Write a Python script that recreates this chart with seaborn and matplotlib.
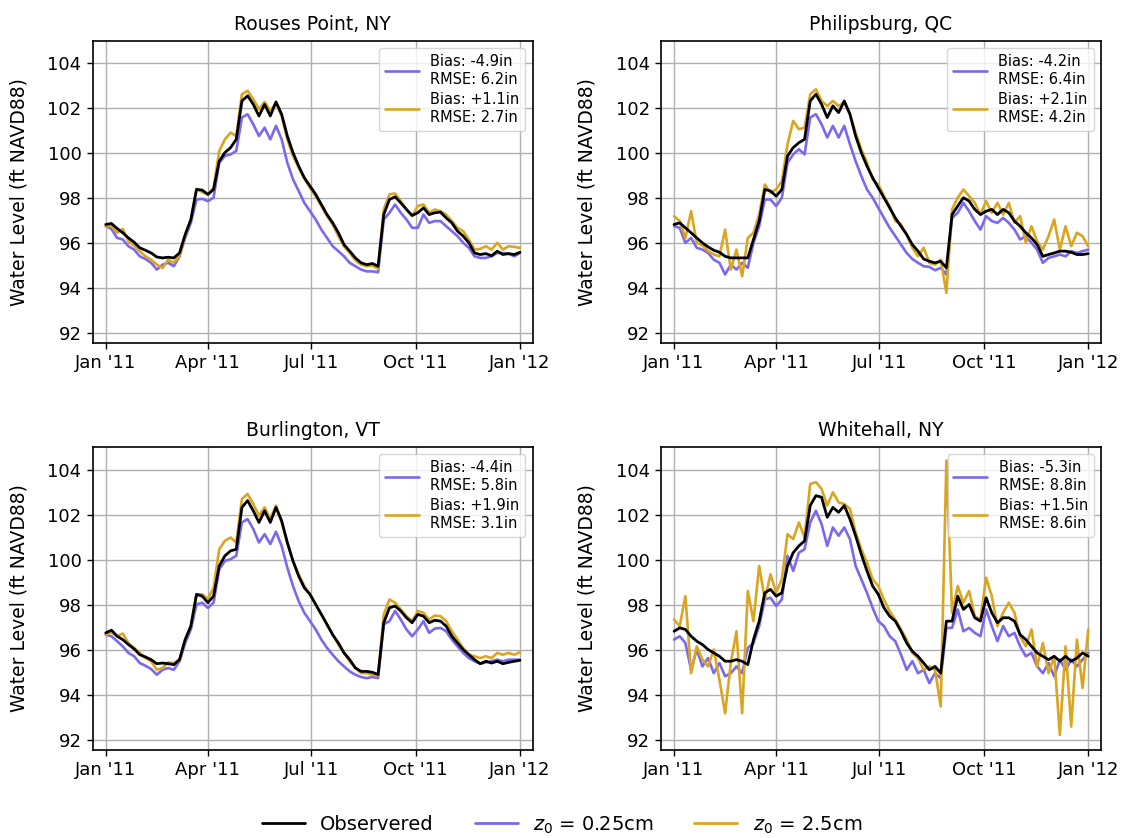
import matplotlib
matplotlib.use("Agg")
import matplotlib.pyplot as plt
import matplotlib.dates as mdates
from matplotlib.lines import Line2D
import seaborn as sns
import pandas as pd

# ---------------- data (5-day samples through 2011) ----------------
dates = pd.date_range("2011-01-01", periods=74, freq="5D")

stations = ["Rouses Point, NY", "Philipsburg, QC", "Burlington, VT", "Whitehall, NY"]
label_obs = "Observered"
label_a = "$z_0$ = 0.25cm"
label_b = "$z_0$ = 2.5cm"

stats_a = ["Bias: -4.9in\nRMSE: 6.2in", "Bias: -4.2in\nRMSE: 6.4in",
           "Bias: -4.4in\nRMSE: 5.8in", "Bias: -5.3in\nRMSE: 8.8in"]
stats_b = ["Bias: +1.1in\nRMSE: 2.7in", "Bias: +2.1in\nRMSE: 4.2in",
           "Bias: +1.9in\nRMSE: 3.1in", "Bias: +1.5in\nRMSE: 8.6in"]

rouses_obs = [96.83, 96.87, 96.65, 96.46, 96.23, 96.04, 95.79, 95.68, 95.56, 95.38,
              95.34, 95.37, 95.34, 95.56, 96.38, 97.05, 98.39, 98.36, 98.17, 98.39,
              99.65, 100.03, 100.25, 100.62, 102.33, 102.56, 102.18, 101.66, 102.18, 101.66,
              102.29, 101.74, 100.77, 100.03, 99.43, 98.91, 98.54, 98.17, 97.72, 97.27,
              96.90, 96.46, 95.93, 95.64, 95.34, 95.12, 95.04, 95.09, 94.97, 97.27,
              97.94, 98.06, 97.79, 97.50, 97.23, 97.35, 97.57, 97.27, 97.35, 97.38,
              97.12, 96.90, 96.53, 96.31, 96.01, 95.56, 95.49, 95.53, 95.44, 95.64,
              95.49, 95.53, 95.49, 95.59]
rouses_a = [96.75, 96.63, 96.23, 96.16, 95.86, 95.71, 95.41, 95.29, 95.12, 94.82,
            95.04, 95.12, 94.97, 95.41, 96.23, 96.90, 97.94, 97.97, 97.87, 98.02,
            99.58, 99.88, 99.95, 100.10, 101.59, 101.74, 101.29, 100.77, 101.14, 100.62,
            101.22, 100.62, 99.58, 98.84, 98.32, 97.79, 97.42, 97.05, 96.60, 96.23,
            95.86, 95.64, 95.41, 95.12, 94.97, 94.82, 94.74, 94.74, 94.70, 97.05,
            97.35, 97.72, 97.35, 97.05, 96.68, 96.68, 97.27, 96.90, 96.98, 96.98,
            96.75, 96.53, 96.31, 96.01, 95.79, 95.41, 95.34, 95.34, 95.41, 95.56,
            95.56, 95.53, 95.41, 95.56]
rouses_b = [96.75, 96.75, 96.46, 96.63, 96.08, 95.89, 95.64, 95.41, 95.26, 95.04,
            94.89, 95.26, 95.12, 95.44, 96.31, 97.05, 98.42, 98.27, 98.17, 98.46,
            100.10, 100.62, 100.92, 100.77, 102.63, 102.78, 102.41, 101.96, 102.29, 101.89,
            102.23, 101.66, 100.62, 99.88, 99.36, 98.87, 98.46, 98.09, 97.65, 97.20,
            96.83, 96.31, 95.86, 95.56, 95.23, 95.04, 94.97, 95.00, 94.85, 97.50,
            98.17, 98.21, 97.87, 97.50, 97.20, 97.65, 97.72, 97.35, 97.50, 97.42,
            97.27, 96.98, 96.68, 96.53, 96.16, 95.71, 95.74, 95.86, 95.71, 96.01,
            95.71, 95.86, 95.83, 95.79]

phil_obs = [96.83, 96.90, 96.68, 96.46, 96.23, 96.01, 95.83, 95.68, 95.59, 95.41,
            95.34, 95.34, 95.34, 95.34, 96.16, 96.98, 98.39, 98.32, 98.09, 98.39,
            99.88, 100.25, 100.47, 100.62, 102.33, 102.63, 102.18, 101.59, 102.11, 101.81,
            102.33, 101.74, 100.77, 100.03, 99.43, 98.91, 98.46, 98.02, 97.57, 97.12,
            96.75, 96.38, 95.93, 95.64, 95.29, 95.19, 95.12, 95.19, 94.90, 97.27,
            97.65, 98.02, 97.87, 97.50, 97.27, 97.42, 97.50, 97.27, 97.50, 97.35,
            96.98, 96.75, 96.46, 96.23, 95.93, 95.41, 95.49, 95.56, 95.64, 95.64,
            95.59, 95.49, 95.49, 95.53]
phil_a = [96.75, 96.68, 96.01, 96.23, 95.79, 95.71, 95.56, 95.26, 95.12, 94.60,
          95.04, 94.82, 95.12, 94.90, 96.01, 96.75, 97.94, 97.94, 97.65, 98.02,
          99.58, 99.95, 100.18, 99.95, 101.59, 101.74, 101.29, 100.70, 101.22, 100.70,
          101.22, 100.40, 99.65, 98.99, 98.39, 98.02, 97.57, 97.12, 96.68, 96.31,
          95.93, 95.56, 95.29, 95.12, 94.97, 94.94, 94.79, 94.90, 94.60, 97.12,
          97.35, 97.79, 97.42, 96.98, 96.60, 97.20, 96.98, 96.90, 97.12, 96.90,
          96.60, 96.16, 96.31, 96.01, 95.71, 95.12, 95.34, 95.41, 95.49, 95.41,
          95.64, 95.56, 95.64, 95.71]
phil_b = [97.20, 96.98, 96.23, 97.42, 96.01, 95.89, 95.64, 95.49, 95.41, 96.60,
          94.82, 95.71, 94.52, 96.23, 96.46, 97.27, 98.61, 98.24, 98.39, 98.76,
          100.40, 101.44, 101.07, 101.14, 102.63, 102.85, 102.33, 102.11, 102.33, 102.11,
          102.26, 101.74, 100.92, 100.18, 99.58, 98.84, 98.61, 98.09, 97.65, 96.98,
          96.83, 96.38, 95.79, 95.41, 95.79, 95.12, 95.04, 95.26, 93.78, 97.50,
          98.02, 98.39, 98.09, 97.79, 97.27, 97.87, 97.35, 97.79, 97.27, 97.79,
          96.90, 97.20, 96.01, 96.75, 96.08, 95.71, 96.31, 97.05, 95.71, 96.75,
          95.86, 96.46, 96.31, 95.86]

burl_obs = [96.75, 96.87, 96.60, 96.45, 96.23, 96.04, 95.78, 95.68, 95.56, 95.38,
            95.41, 95.38, 95.34, 95.56, 96.45, 97.05, 98.46, 98.38, 98.09, 98.38,
            99.72, 100.17, 100.39, 100.46, 102.32, 102.62, 102.17, 101.65, 102.17, 101.65,
            102.32, 101.73, 100.76, 99.94, 99.27, 98.75, 98.46, 98.01, 97.57, 97.12,
            96.67, 96.30, 95.86, 95.56, 95.19, 95.04, 95.04, 95.00, 94.90, 97.20,
            97.86, 97.94, 97.72, 97.42, 97.20, 97.57, 97.49, 97.20, 97.31, 97.27,
            97.05, 96.60, 96.30, 96.01, 95.78, 95.56, 95.38, 95.49, 95.41, 95.49,
            95.38, 95.44, 95.49, 95.53]
burl_a = [96.67, 96.60, 96.38, 96.15, 95.86, 95.71, 95.41, 95.29, 95.14, 94.89,
          95.11, 95.19, 95.11, 95.49, 96.30, 96.90, 98.01, 98.09, 97.86, 98.09,
          99.57, 99.94, 100.02, 100.17, 101.65, 101.80, 101.36, 100.76, 101.13, 100.69,
          101.24, 100.61, 99.65, 98.83, 98.16, 97.64, 97.27, 96.90, 96.45, 96.08,
          95.78, 95.49, 95.26, 95.04, 94.89, 94.79, 94.74, 94.79, 94.74, 97.13,
          97.27, 97.72, 97.34, 96.90, 96.60, 96.90, 97.27, 96.75, 96.94, 96.97,
          96.82, 96.45, 96.15, 95.86, 95.63, 95.49, 95.38, 95.44, 95.49, 95.56,
          95.49, 95.56, 95.56, 95.56]
burl_b = [96.67, 96.78, 96.60, 96.72, 96.30, 96.08, 95.86, 95.63, 95.49, 95.11,
          95.19, 95.44, 95.41, 95.56, 96.45, 97.05, 98.46, 98.46, 98.26, 98.75,
          100.46, 100.84, 100.98, 100.76, 102.69, 102.92, 102.47, 101.95, 102.32, 101.80,
          102.40, 101.65, 100.76, 99.94, 99.35, 98.83, 98.46, 98.01, 97.57, 97.12,
          96.67, 96.23, 95.86, 95.49, 95.19, 94.96, 94.96, 94.89, 94.85, 97.57,
          98.23, 98.09, 97.79, 97.49, 97.27, 97.72, 97.64, 97.34, 97.52, 97.49,
          97.27, 96.82, 96.45, 96.08, 95.78, 95.71, 95.63, 95.71, 95.63, 95.86,
          95.78, 95.86, 95.78, 95.89]

white_obs = [96.82, 96.97, 96.90, 96.60, 96.38, 96.23, 96.01, 95.86, 95.71, 95.49,
             95.49, 95.56, 95.49, 95.34, 96.45, 97.27, 98.53, 98.68, 98.38, 98.53,
             99.72, 100.31, 100.61, 100.83, 102.40, 102.84, 102.77, 101.88, 102.32, 102.10,
             102.40, 101.80, 101.06, 100.24, 99.50, 98.83, 98.46, 97.86, 97.49, 97.27,
             96.82, 96.30, 95.93, 95.71, 95.41, 95.11, 95.26, 94.96, 97.27, 97.27,
             98.38, 97.79, 98.01, 97.42, 97.27, 98.31, 97.64, 97.20, 97.42, 97.42,
             97.27, 96.67, 96.45, 96.15, 95.86, 95.71, 95.56, 95.71, 95.49, 95.71,
             95.49, 95.63, 95.86, 95.71]
white_a = [96.45, 96.60, 96.30, 95.11, 96.01, 95.26, 95.63, 94.96, 95.41, 94.82,
           94.96, 95.26, 94.96, 96.08, 96.30, 97.05, 98.23, 98.31, 97.94, 98.23,
           100.17, 99.50, 100.31, 100.46, 101.65, 102.17, 101.58, 100.61, 101.43, 101.06,
           101.43, 100.91, 99.72, 99.13, 98.53, 97.86, 97.27, 97.05, 96.60, 96.38,
           95.78, 95.11, 95.49, 94.96, 95.11, 94.52, 94.96, 94.74, 96.97, 96.97,
           97.79, 96.82, 96.97, 96.75, 96.60, 97.79, 97.05, 96.38, 97.05, 96.60,
           96.75, 96.15, 95.71, 95.86, 95.26, 94.96, 95.41, 94.82, 95.56, 95.11,
           95.56, 95.26, 95.56, 95.86]
white_b = [97.34, 97.05, 98.38, 94.96, 96.15, 95.56, 95.26, 96.01, 94.67, 93.18,
           95.41, 96.82, 93.18, 98.61, 97.27, 99.72, 98.23, 99.35, 98.53, 99.13,
           101.13, 100.91, 101.65, 100.98, 103.36, 103.44, 103.14, 102.40, 102.99, 102.54,
           102.47, 102.25, 101.21, 100.46, 99.87, 99.13, 98.83, 98.23, 97.71, 97.34,
           96.90, 96.45, 95.86, 95.63, 95.11, 95.26, 95.11, 93.48, 104.40, 97.64,
           98.83, 98.09, 98.61, 97.49, 97.34, 99.20, 98.38, 97.05, 97.64, 98.09,
           97.64, 96.60, 96.15, 96.90, 95.26, 96.30, 94.96, 95.71, 92.22, 96.15,
           92.59, 96.45, 94.30, 96.90]

obs_series = [rouses_obs, phil_obs, burl_obs, white_obs]
a_series = [rouses_a, phil_a, burl_a, white_a]
b_series = [rouses_b, phil_b, burl_b, white_b]

# ---------------- style ----------------
col_obs = "black"
col_a = "#7B68EE"
col_b = "#DAA520"

sns.set_style("ticks", {"axes.grid": True, "grid.color": "#b0b0b0",
                        "axes.edgecolor": "black", "xtick.color": "black",
                        "ytick.color": "black", "text.color": "black",
                        "axes.labelcolor": "black"})
plt.rcParams["font.family"] = ["DejaVu Sans"]
plt.rcParams["grid.linewidth"] = 1.0

fig = plt.figure(figsize=(11.24, 8.38), dpi=100)
W, H = 1124.0, 838.0
boxes = [(92.7, 41, 440, 302), (661, 41, 440, 302),
         (92.7, 447, 440, 303), (661, 447, 440, 303)]
axes = []
for (l, t, w, h) in boxes:
    axes.append(fig.add_axes([l / W, 1 - (t + h) / H, w / W, h / H]))

for i, ax in enumerate(axes):
    sns.lineplot(x=dates, y=a_series[i], color=col_a, lw=1.9, ax=ax, label=stats_a[i])
    sns.lineplot(x=dates, y=b_series[i], color=col_b, lw=1.9, ax=ax, label=stats_b[i])
    sns.lineplot(x=dates, y=obs_series[i], color=col_obs, lw=2.0, ax=ax, label="_obs")
    ax.set_title(stations[i], fontsize=13.5, pad=8, color="black")
    ax.set_ylabel("Water Level (ft NAVD88)", fontsize=13.5, labelpad=14)
    ax.set_xlabel("")
    ax.set_ylim(91.55, 105.0)
    ax.set_yticks([92, 94, 96, 98, 100, 102, 104])
    ax.set_xlim(pd.Timestamp("2010-12-20 12:00"), pd.Timestamp("2012-01-12 06:00"))
    ax.xaxis.set_major_locator(mdates.MonthLocator(bymonth=[1, 4, 7, 10]))
    ax.xaxis.set_major_formatter(mdates.DateFormatter("%b '%y"))
    ax.tick_params(labelsize=13, length=4.5, width=1)
    for s in ax.spines.values():
        s.set_linewidth(1.2)
        s.set_visible(True)
    ax.grid(True, color="#b0b0b0", lw=1.0)
    handles, labels = ax.get_legend_handles_labels()
    keep = [(h, l) for h, l in zip(handles, labels) if not l.startswith("_")]
    ax.legend([h for h, _ in keep], [l for _, l in keep], loc="upper right",
              fontsize=10.5, handlelength=2.3, borderaxespad=0.5, labelspacing=0.4,
              framealpha=0.8)

fh = [Line2D([], [], color=col_obs, lw=2), Line2D([], [], color=col_a, lw=2),
      Line2D([], [], color=col_b, lw=2)]
fig.legend(fh, [label_obs, label_a, label_b], loc="lower center",
           bbox_to_anchor=(0.5, -0.018), ncol=3, frameon=False, fontsize=14,
           handlelength=2.2, columnspacing=2.1)

fig.savefig("out.png", dpi=100)
